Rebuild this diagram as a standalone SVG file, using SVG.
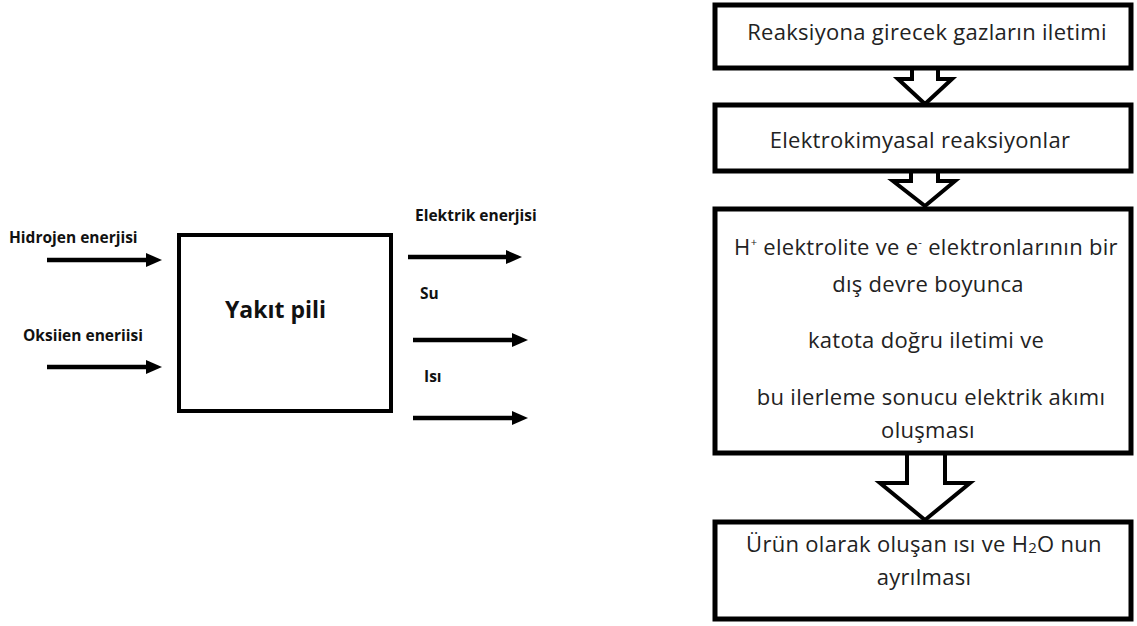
<svg xmlns="http://www.w3.org/2000/svg" width="1137" height="626" viewBox="0 0 1137 626">
<style>
.lbl{font-family:"Open Sans","Liberation Sans",sans-serif;font-weight:bold;font-size:15.5px;fill:#111}
.title{font-family:"Open Sans","Liberation Sans",sans-serif;font-weight:bold;font-size:23px;fill:#111}
.ft{font-family:"Open Sans","Liberation Sans",sans-serif;font-size:22px;letter-spacing:0.3px;fill:#222;text-anchor:middle}
.box{fill:#fff;stroke:#000;stroke-width:5}
.cell{fill:#fff;stroke:#000;stroke-width:4}
.blk{fill:#fff;stroke:#000;stroke-width:4;stroke-linejoin:miter}
.arr{stroke:#000;stroke-width:4.5;fill:none;marker-end:url(#ah)}
</style>
<defs>
<marker id="ah" markerUnits="userSpaceOnUse" markerWidth="16" markerHeight="14" refX="8" refY="7" orient="auto">
<path d="M0,0 L16,7 L0,14 Z" fill="#000"/>
</marker>
</defs>
<rect width="1137" height="626" fill="#fff"/>

<g id="connectors">
<line class="arr" x1="47" y1="260" x2="154" y2="260"/>
<line class="arr" x1="47" y1="367" x2="154" y2="367"/>
<line class="arr" x1="408" y1="257" x2="514" y2="257"/>
<line class="arr" x1="413" y1="340" x2="520" y2="340"/>
<line class="arr" x1="413" y1="418" x2="520" y2="418"/>
<polygon class="blk" points="912,66 938,66 938,79 952,79 925,104 898,79 912,79"/>
<polygon class="blk" points="911,169 938,169 938,181 955,181 925,206 893,181 911,181"/>
<polygon class="blk" points="907,452 945,452 945,483 970,483 925,520 880,483 907,483"/>
</g>

<g id="label-hidrojen"><text class="lbl" x="9" y="243">Hidrojen enerjisi</text></g>
<g id="label-oksijen"><text class="lbl" x="23" y="341">Oksiien eneriisi</text></g>
<g id="label-elektrik"><text class="lbl" x="415" y="221">Elektrik enerjisi</text></g>
<g id="label-su"><text class="lbl" x="420" y="299">Su</text></g>
<g id="label-isi"><text class="lbl" x="424" y="382">Isı</text></g>

<g id="yakit-pili">
<rect class="cell" x="179" y="235" width="212" height="176"/>
<text class="title" x="225" y="318">Yakıt pili</text>
</g>

<g id="step1">
<rect class="box" x="715" y="5" width="416" height="63"/>
<text class="ft" x="927" y="40">Reaksiyona girecek gazların iletimi</text>
</g>
<g id="step2">
<rect class="box" x="715" y="105" width="416" height="66"/>
<text class="ft" x="920" y="148">Elektrokimyasal reaksiyonlar</text>
</g>
<g id="step3">
<rect class="box" x="715" y="209" width="416" height="244"/>
<text class="ft" x="926" y="255">H<tspan font-size="11" dy="-9">+</tspan><tspan dy="9"> elektrolite ve e</tspan><tspan font-size="11" dy="-9">-</tspan><tspan dy="9">  elektronlarının bir</tspan></text>
<text class="ft" x="928" y="292">dış devre boyunca</text>
<text class="ft" x="926" y="348">katota doğru iletimi ve</text>
<text class="ft" x="931" y="405">bu ilerleme sonucu elektrik akımı</text>
<text class="ft" x="928" y="438">oluşması</text>
</g>
<g id="step4">
<rect class="box" x="715" y="522" width="416" height="97"/>
<text class="ft" x="924" y="552">Ürün olarak oluşan ısı ve H<tspan font-size="15" dy="1">2</tspan><tspan dy="-1">O nun</tspan></text>
<text class="ft" x="924" y="585">ayrılması</text>
</g>
</svg>
